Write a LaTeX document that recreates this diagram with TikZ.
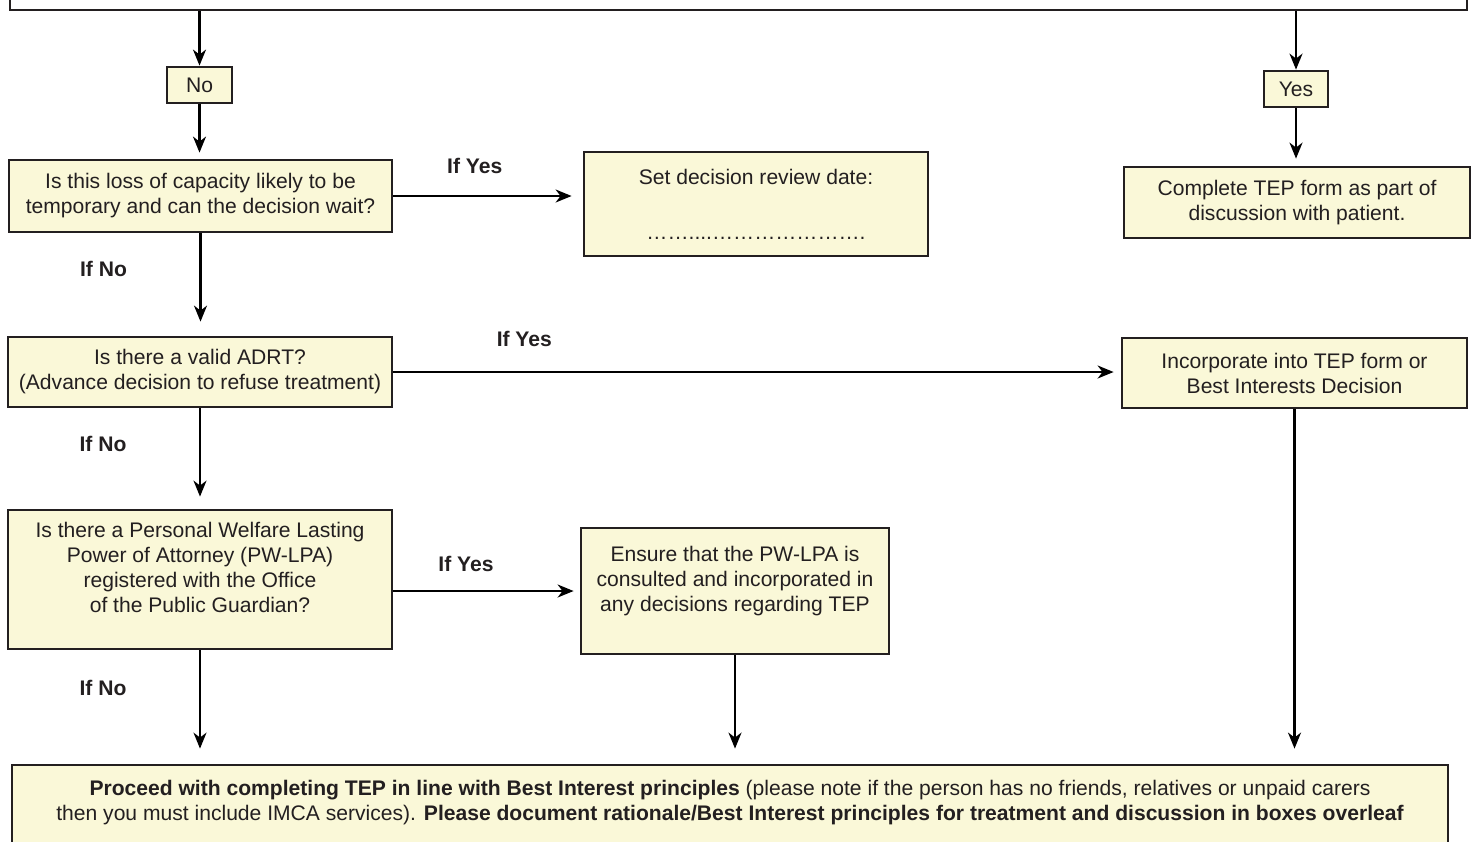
\documentclass[tikz,border=0pt]{standalone}
\usepackage{fontspec}
\setmainfont{Liberation Sans}
\usetikzlibrary{arrows.meta}
\definecolor{boxfill}{RGB}{250,248,216}
\definecolor{ink}{RGB}{35,31,32}
\tikzset{
  box/.style={draw=ink, fill=boxfill, line width=1.6pt, align=center, text=ink,
    inner sep=2pt, font=\fontsize{12}{14.2}\selectfont},
  flow/.style={-{Stealth[length=3.2mm,width=2.6mm,inset=1mm]}, line width=1.2pt},
  cond/.style={font=\bfseries\fontsize{12}{14}\selectfont, text=ink},
}
\begin{document}
\begin{tikzpicture}
  \useasboundingbox (0,0) rectangle (29.5,-16.82);
  \clip (0,0) rectangle (29.5,-16.82);

  % panel above, cut by the page edge
  \node[box, fill=white, minimum width=29.14cm, minimum height=1.4cm] (intro) at (14.77,0.5) {};

  \node[box, minimum width=1.3cm, minimum height=0.72cm] (no) at (3.99,-1.70) {No};
  \node[box, minimum width=1.28cm, minimum height=0.72cm] (yes) at (25.92,-1.78) {Yes};

  \node[box, minimum width=7.66cm, minimum height=1.44cm] (loss) at (4.01,-3.92)
    {Is this loss of capacity likely to be\\temporary and can the decision wait?};
  \node[box, minimum width=6.88cm, minimum height=2.08cm] (review) at (15.12,-4.08)
    {Set decision review date:\\[0.6cm]……....………………….};
  \node[box, minimum width=6.92cm, minimum height=1.42cm] (complete) at (25.94,-4.05)
    {Complete TEP form as part of\\discussion with patient.};

  \node[box, minimum width=7.68cm, minimum height=1.40cm] (adrt) at (4.0,-7.44)
    {Is there a valid ADRT?\\(Advance decision to refuse treatment)};
  \node[box, minimum width=6.9cm, minimum height=1.4cm] (incorp) at (25.89,-7.46)
    {Incorporate into TEP form or\\Best Interests Decision};

  \node[box, minimum width=7.68cm, minimum height=2.78cm] (lpa) at (4.0,-11.59)
    {Is there a Personal Welfare Lasting\\Power of Attorney (PW-LPA)\\registered with the Office\\of the Public Guardian?\\\mbox{}};
  \node[box, minimum width=6.16cm, minimum height=2.52cm] (ensure) at (14.7,-11.82)
    {Ensure that the PW-LPA is\\consulted and incorporated in\\any decisions regarding TEP\\\mbox{}};

  \node[box, minimum width=28.72cm, minimum height=2.1cm] (final) at (14.6,-16.35)
    {\textbf{Proceed with completing TEP in line with Best Interest principles} (please note if the person has no friends, relatives or unpaid carers\\
     then you must include IMCA services). \textbf{Please document rationale/Best Interest principles for treatment and discussion in boxes overleaf}\\[0.2cm]\mbox{}};

  % arrows
  \draw[flow] (intro.south -| no) -- (no);
  \draw[flow] (intro.south -| yes) -- (yes);
  \draw[flow, shorten >=0.12cm] (no.south) -- (no.south |- loss.north);
  \draw[flow, shorten >=0.14cm] (yes.south) -- (yes.south |- complete.north);

  \draw[flow, shorten >=0.22cm] (loss.east) -- (loss.east -| review.west)
    node[cond, pos=0.43, yshift=0.6cm] {If Yes};
  \draw[flow, shorten >=0.28cm] (loss.south) -- (loss.south |- adrt.north)
    node[cond, pos=0.35, xshift=-1.94cm] {If No};

  \draw[flow, shorten >=0.14cm] (adrt.east) -- (adrt.east -| incorp.west)
    node[cond, pos=0.18, yshift=0.66cm] {If Yes};
  \draw[flow, shorten >=0.24cm] (adrt.south) -- (adrt.south |- lpa.north)
    node[cond, pos=0.35, xshift=-1.94cm] {If No};

  \draw[flow, shorten >=0.12cm] (lpa.east |- ensure.west) -- (ensure.west)
    node[cond, pos=0.39, yshift=0.55cm] {If Yes};
  \draw[flow, shorten >=0.3cm] (lpa.south) -- (lpa.south |- final.north)
    node[cond, pos=0.33, xshift=-1.94cm] {If No};

  \draw[flow, shorten >=0.3cm] (ensure.south) -- (ensure.south |- final.north);
  \draw[flow, shorten >=0.3cm] (incorp.south) -- (incorp.south |- final.north);
\end{tikzpicture}
\end{document}
